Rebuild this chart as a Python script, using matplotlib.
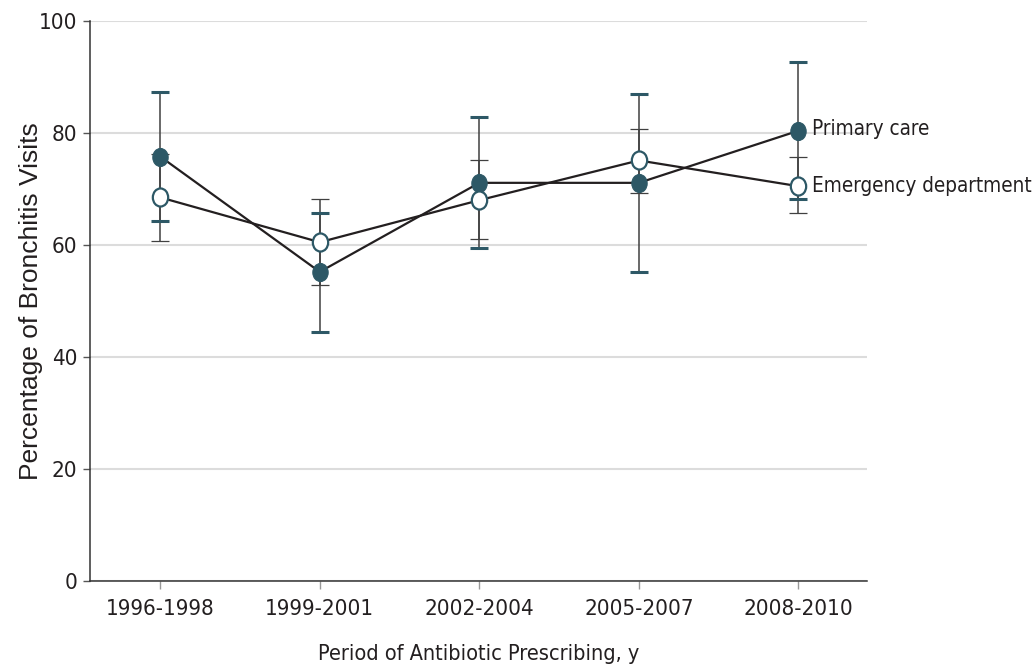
import matplotlib
matplotlib.use("Agg")
import matplotlib.pyplot as plt
from matplotlib import font_manager as fm
from matplotlib.path import Path
from matplotlib.transforms import Affine2D
from matplotlib.markers import MarkerStyle
import numpy as np

# ---- data ----
periods = ['1996-1998', '1999-2001', '2002-2004', '2005-2007', '2008-2010']
primary = [75.8, 55.2, 71.1, 71.1, 80.4]
primary_lo = [64.2, 44.4, 59.4, 55.2, 68.2]
primary_hi = [87.3, 65.7, 82.9, 86.9, 92.7]
ed = [68.5, 60.5, 68.0, 75.1, 70.5]
ed_lo = [60.8, 52.9, 61.1, 69.3, 65.7]
ed_hi = [76.2, 68.2, 75.1, 80.8, 75.7]
series_labels = ['Primary care', 'Emergency department']
yticks = [0, 20, 40, 60, 80, 100]
xlabel = 'Period of Antibiotic Prescribing, y'
ylabel = 'Percentage of Bronchitis Visits'

# ---- fonts ----
names = {f.name for f in fm.fontManager.ttflist}
if 'Liberation Sans Narrow' in names:
    narrow = dict(family='Liberation Sans Narrow')
    nscale = 1.0
elif any(f.name == 'DejaVu Sans' and 'condensed' in str(f.stretch) for f in fm.fontManager.ttflist):
    narrow = dict(family='DejaVu Sans', stretch='condensed')
    nscale = 0.81
else:
    narrow = dict(family='Liberation Sans')
    nscale = 0.80
regular = 'Liberation Sans' if 'Liberation Sans' in names else 'DejaVu Sans'

TEAL = '#2d5866'
DARK = '#231f20'
BAR = '#404040'

fig = plt.figure(figsize=(10.36, 6.69), dpi=100)
ax = fig.add_axes([90 / 1036, 88 / 669, 777 / 1036, 560 / 669])

x = np.arange(len(periods))

# ellipse marker
ell = Affine2D().scale(0.85, 1.0).transform_path(Path.unit_circle())
mk = MarkerStyle(ell)

p = np.array(primary); e = np.array(ed)
# error bars
ax.errorbar(x, e, yerr=[e - np.array(ed_lo), np.array(ed_hi) - e], fmt='none',
            ecolor=BAR, elinewidth=1.1, capsize=6.8, capthick=0.9, zorder=2)
ax.errorbar(x, p, yerr=[p - np.array(primary_lo), np.array(primary_hi) - p], fmt='none',
            ecolor=BAR, elinewidth=1.1, capsize=0, zorder=2)
# teal caps for primary care
ax.plot(x, primary_lo, ls='none', marker='_', ms=13.6, mew=2.2, color=TEAL, zorder=2.5)
ax.plot(x, primary_hi, ls='none', marker='_', ms=13.6, mew=2.2, color=TEAL, zorder=2.5)

# lines
ax.plot(x, primary, color=DARK, lw=1.6, zorder=3)
ax.plot(x, ed, color=DARK, lw=1.6, zorder=3)
# markers
ax.plot(x, primary, ls='none', marker=mk, ms=13, mfc=TEAL, mec=TEAL, mew=0.8, zorder=4)
ax.plot(x, ed, ls='none', marker=mk, ms=13, mfc='white', mec=TEAL, mew=1.6, zorder=4)

# end labels
ax.annotate(series_labels[0], (x[-1], primary[-1]), xytext=(10, 1), textcoords='offset points',
            va='center', ha='left', fontsize=18.3 * nscale, color=DARK, annotation_clip=False, **narrow)
ax.annotate(series_labels[1], (x[-1], ed[-1]), xytext=(10, 0), textcoords='offset points',
            va='center', ha='left', fontsize=18.3 * nscale, color=DARK, annotation_clip=False, **narrow)

ax.set_xlim(-0.44, 4.43)
ax.set_ylim(0, 100)
ax.set_yticks(yticks)
ax.set_xticks(x)
ax.set_xticklabels(periods, fontsize=19.8 * nscale, color=DARK, **narrow)
ax.set_yticklabels([str(t) for t in yticks], fontsize=19.8 * nscale, color=DARK, **narrow)

ax.yaxis.grid(True, color='#dcdcdc', lw=1.5)
ax.set_axisbelow(True)
for s in ['top', 'right']:
    ax.spines[s].set_visible(False)
for s in ['left', 'bottom']:
    ax.spines[s].set_color('#333333')
    ax.spines[s].set_linewidth(1.1)
ax.tick_params(axis='y', direction='out', length=5, width=1, color='#555555', pad=4)
ax.tick_params(axis='x', direction='out', length=5.8, width=1, color='#999999', pad=7.5)

ax.set_xlabel(xlabel, fontsize=19.2 * nscale, color=DARK, labelpad=18, **narrow)
ax.set_ylabel(ylabel, fontsize=19, color=DARK, family=regular, labelpad=-3)

fig.savefig('out.png', dpi=100)
